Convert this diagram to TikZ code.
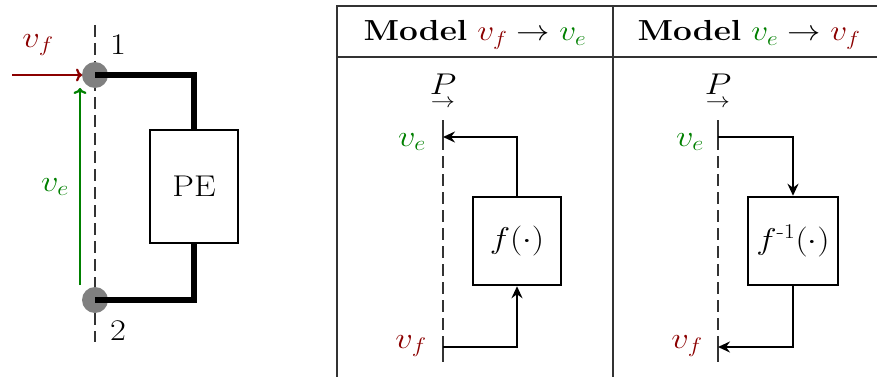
\RequirePackage{fix-cm}
\documentclass[tikz,border=0pt]{standalone}
\usepackage{amsmath}
\usepackage{graphicx}
\usetikzlibrary{arrows.meta}
\definecolor{vfc}{RGB}{139,0,0}
\definecolor{vec}{RGB}{0,128,0}
\newcommand{\wide}[1]{\scalebox{1.15}[1]{#1}}
\newcommand{\Parrow}{\wide{$\underset{\raisebox{2pt}{$\scriptstyle\rightarrow$}}{P}$}}
\begin{document}
\begin{tikzpicture}[x=1pt,y=-1pt,
 every node/.style={font=\fontsize{30}{34}\selectfont, inner sep=0pt},
 headfont/.style={font=\fontsize{29}{33}\selectfont},
 wire/.style={line width=5.5pt},
 dashln/.style={line width=1.5pt, black!80, dash pattern=on 12pt off 6pt},
 tickmark/.style={line width=1.5pt, black!80},
 sig/.style={line width=2.2pt, -{Stealth[length=12pt,width=11pt,inset=4pt]}},
 colarrow/.style={line width=2.2pt, -{To[length=6pt,width=13pt]}},
 fbox/.style={draw, line width=2.5pt, minimum width=88pt, minimum height=88pt},
 tbl/.style={line width=1.5pt, black!80},
 ]
\useasboundingbox (0,0) rectangle (877,377);

% ---------- left circuit ----------
\draw[dashln] (95,25) -- (95,342);
\coordinate (t1) at (95,75);
\coordinate (t2) at (95,300);
\fill[black!50] (t1) circle (13);
\fill[black!50] (t2) circle (13);
\node[draw, line width=1.5pt, minimum width=88pt, minimum height=113pt] (pe) at (194,186.5) {\wide{PE}};
\draw[wire] (t1) -| (pe.north);
\draw[wire] (t2) -| (pe.south);
\coordinate (vfs) at (12,75);
\draw[colarrow, vfc, shorten >=13pt] (vfs) -- (t1);
\coordinate (ves) at (80,285);
\coordinate (vee) at (80,88);
\draw[colarrow, vec] (ves) -- (vee);
\node[text=vfc] (lvf) at (38,45) {\wide{$v_f$}};
\node[text=vec] (lve) at (55,187) {\wide{$v_e$}};
\node (n1) at (118,45) {\wide{1}};
\node (n2) at (118,331) {\wide{2}};

% ---------- table ----------
\draw[tbl] (337,377) -- (337,6) -- (877,6);
\draw[tbl] (337,57) -- (877,57);
\draw[tbl] (613,6) -- (613,377);
\node[headfont] (h1) at (475,35) {\wide{\textbf{Model} $\textcolor{vfc}{v_f}\rightarrow\textcolor{vec}{v_e}$}};
\node[headfont] (h2) at (749,35) {\wide{\textbf{Model} $\textcolor{vec}{v_e}\rightarrow\textcolor{vfc}{v_f}$}};

% ---------- middle panel ----------
\draw[dashln] (443,120) -- (443,362);
\coordinate (mve) at (443,137);
\coordinate (mvf) at (443,347);
\draw[tickmark] (443,128) -- (443,146);
\draw[tickmark] (443,338) -- (443,356);
\node (mp) at (443,93) {\Parrow};
\node[text=vec] (mlve) at (412,142) {\wide{$v_e$}};
\node[text=vfc] (mlvf) at (411,346) {\wide{$v_f$}};
\node[fbox] (mf) at (517,241) {\wide{$f(\cdot)$}};
\draw[sig] (mf.north) |- (mve);
\draw[sig] (mvf) -| (mf.south);

% ---------- right panel ----------
\draw[dashln] (718,120) -- (718,362);
\coordinate (rve) at (718,137);
\coordinate (rvf) at (718,347);
\draw[tickmark] (718,128) -- (718,146);
\draw[tickmark] (718,338) -- (718,356);
\node (rp) at (718,93) {\Parrow};
\node[text=vec] (rlve) at (690,142) {\wide{$v_e$}};
\node[text=vfc] (rlvf) at (687,346) {\wide{$v_f$}};
\node[fbox, minimum width=90pt] (rf) at (793,241) {\wide{$f^{\text{-}1}(\cdot)$}};
\draw[sig] (rve) -| (rf.north);
\draw[sig] (rf.south) |- (rvf);
\end{tikzpicture}
\end{document}
